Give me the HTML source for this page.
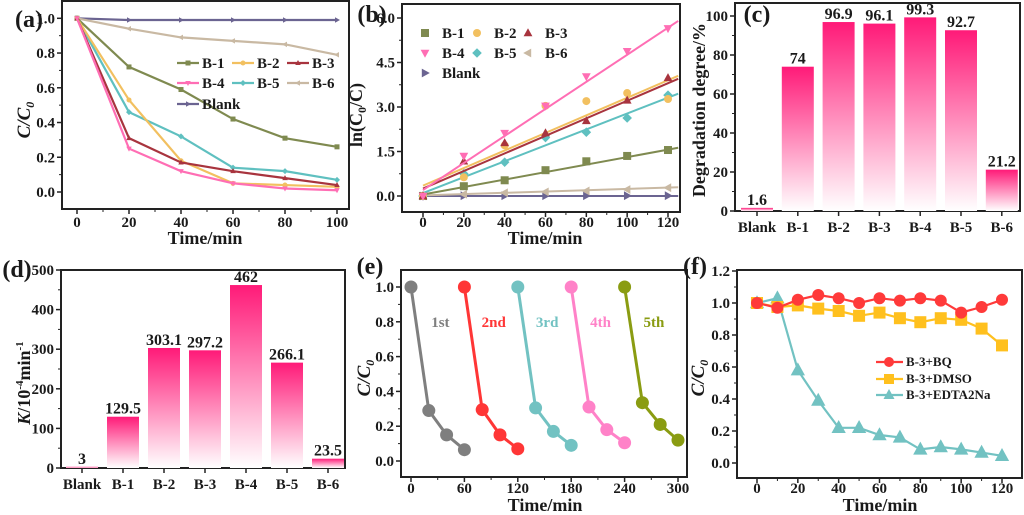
<!DOCTYPE html>
<html><head><meta charset="utf-8"><style>
body{margin:0;background:#fff}
svg{display:block;font-family:"Liberation Serif",serif;font-weight:bold}
</style></head><body>
<svg id="fig" width="1024" height="515" viewBox="0 0 1024 515">
<defs>
<linearGradient id="pg" x1="0" y1="0" x2="0" y2="1"><stop offset="0" stop-color="#ff1a78"/><stop offset="1" stop-color="#ffffff"/></linearGradient>
</defs>
</svg>
<script>
// ---- panel (a) data ----
const aTimes=[0,20,40,60,80,100];
const aNames=["B-1","B-2","B-3","B-4","B-5","B-6","Blank"];
const aB1=[1,0.72,0.59,0.42,0.31,0.26];
const aB2=[1,0.53,0.18,0.05,0.04,0.03];
const aB3=[1,0.31,0.17,0.12,0.08,0.04];
const aB4=[1,0.25,0.12,0.05,0.02,0.01];
const aB5=[1,0.46,0.32,0.14,0.12,0.07];
const aB6=[1,0.94,0.89,0.87,0.85,0.79];
const aBlank=[1,0.99,0.99,0.99,0.99,0.99];
// ---- panel (b) data ----
const bTimes=[0,20,40,60,80,100,120];
const bB1=[0,0.33,0.53,0.87,1.17,1.35,1.55];
const bB2=[0,0.63,1.71,3.04,3.2,3.47,3.27];
const bB3=[0,1.17,1.79,2.12,2.53,3.22,3.98];
const bB4=[0,1.35,2.12,3.04,4.03,4.88,5.65];
const bB5=[0,0.75,1.14,1.97,2.15,2.63,3.4];
const bB6=[0,0.06,0.11,0.14,0.17,0.22,0.28];
const bBlank=[0,0.01,0.01,0.01,0.01,0.01,0.01];
const bIntercepts=[0.05,0.35,0.25,0.2,0.1,0.02,0];
const bSlopes=[0.0126,0.0296,0.0296,0.0456,0.0268,0.0022,0];
// ---- panel (c) data ----
const cats=["Blank","B-1","B-2","B-3","B-4","B-5","B-6"];
const cValues=[1.6,74,96.9,96.1,99.3,92.7,21.2];
// ---- panel (d) data ----
const dValues=[3,129.5,303.1,297.2,462,266.1,23.5];
// ---- panel (e) data ----
const eCycles=["1st","2nd","3rd","4th","5th"];
const eOffsets=[0,60,120,180,240];
const eStep=[0,20,40,60];
const e1=[1,0.29,0.15,0.065];
const e2=[1,0.295,0.15,0.07];
const e3=[1,0.305,0.17,0.09];
const e4=[1,0.31,0.18,0.105];
const e5=[1,0.335,0.21,0.12];
// ---- panel (f) data ----
const fTimes=[0,10,20,30,40,50,60,70,80,90,100,110,120];
const fBQ=[1,0.97,1.02,1.05,1.03,1.0,1.03,1.015,1.03,1.015,0.94,0.975,1.02];
const fDMSO=[1,0.975,0.985,0.965,0.95,0.92,0.94,0.905,0.88,0.905,0.895,0.84,0.735];
const fEDTA=[1,1.03,0.58,0.39,0.22,0.22,0.175,0.16,0.085,0.1,0.085,0.065,0.045];
const fNames=["B-3+BQ","B-3+DMSO","B-3+EDTA2Na"];

const svg=document.getElementById('fig');
const NS='http://www.w3.org/2000/svg';
function mk(tag,attrs,name,inter,parent){
  const el=document.createElementNS(NS,tag);
  for(const k in attrs) el.setAttribute(k,attrs[k]);
  
  
  (parent||svg).appendChild(el);return el;
}
function txt(x,y,s,name,opt){
  opt=opt||{};
  const t=mk('text',{x:x,y:y,'font-size':opt.size||15,'text-anchor':opt.anchor||'middle',fill:opt.fill||'#1a1a1a'},name,false);
  if(opt.italic) t.setAttribute('font-style','italic');
  if(opt.rot) t.setAttribute('transform','rotate(-90 '+x+' '+y+')');
  if(opt.html) t.innerHTML=s; else t.textContent=s;
  return t;
}
function lin(d0,d1,p0,p1){return v=>p0+(v-d0)*(p1-p0)/(d1-d0);}
function frame(x0,y0,x1,y1,name){
  mk('rect',{x:x0,y:y0,width:x1-x0,height:y1-y0,fill:'none',stroke:'#222','stroke-width':2},name,false);
}
function yAxis(x0,sy,ticks,fmt,minor,name){
  ticks.forEach(v=>{
    const y=sy(v);
    mk('line',{x1:x0-5,y1:y,x2:x0,y2:y,stroke:'#222','stroke-width':1.5},name+'-tick',false);
    txt(x0-7,y+5,fmt(v),name+'-label',{anchor:'end'});
  });
  (minor||[]).forEach(v=>{const y=sy(v);mk('line',{x1:x0-3,y1:y,x2:x0,y2:y,stroke:'#222','stroke-width':1},name+'-minor-tick',false);});
}
function xAxis(y0,sx,ticks,fmt,minor,name,ly){
  ticks.forEach(v=>{
    const x=sx(v);
    mk('line',{x1:x,y1:y0,x2:x,y2:y0+5,stroke:'#222','stroke-width':1.5},name+'-tick',false);
    txt(x,ly,fmt(v),name+'-label');
  });
  (minor||[]).forEach(v=>{const x=sx(v);mk('line',{x1:x,y1:y0,x2:x,y2:y0+3,stroke:'#222','stroke-width':1},name+'-minor-tick',false);});
}
function marker(type,x,y,s,color,name){
  let el;
  if(type==='sq') el=mk('rect',{x:x-s,y:y-s,width:2*s,height:2*s,fill:color},name,false);
  else if(type==='ci') el=mk('circle',{cx:x,cy:y,r:s,fill:color},name,false);
  else {
    let p;
    if(type==='up') p=[[x,y-s*1.2],[x-s*1.1,y+s*0.8],[x+s*1.1,y+s*0.8]];
    if(type==='dn') p=[[x,y+s*1.2],[x-s*1.1,y-s*0.8],[x+s*1.1,y-s*0.8]];
    if(type==='di') p=[[x,y-s*1.2],[x+s*1.2,y],[x,y+s*1.2],[x-s*1.2,y]];
    if(type==='lt') p=[[x-s*1.2,y],[x+s*0.8,y-s*1.1],[x+s*0.8,y+s*1.1]];
    if(type==='rt') p=[[x+s*1.2,y],[x-s*0.8,y-s*1.1],[x-s*0.8,y+s*1.1]];
    el=mk('polygon',{points:p.map(q=>q.join(',')).join(' '),fill:color},name,false);
  }
  return el;
}
function poly(xs,ys,sx,sy,color,w,name){
  mk('polyline',{points:xs.map((v,i)=>sx(v)+','+sy(ys[i])).join(' '),fill:'none',stroke:color,'stroke-width':w},name,false);
}
const range=(a,b,s)=>{const r=[];for(let v=a;v<=b+1e-9;v+=s)r.push(+v.toFixed(6));return r;};
const seriesCols=["#7f8a50","#f2c060","#a8343e","#ff6eb4","#5fc0c0","#c9b9a3","#6b6491"];
const markTypes=["sq","ci","up","dn","di","lt","rt"];

// ===== Panel (a) =====
{
  const sx=lin(0,100,77,337), sy=lin(0,1,192,18.3);
  frame(62,1,349,209,'panel-a-frame');
  yAxis(62,sy,range(0,1,0.2),v=>v.toFixed(1),range(0.1,0.9,0.2),'a-y-tick');
  xAxis(209,sx,aTimes,v=>v,range(10,90,20),'a-x-tick',227);
  const all=[aB1,aB2,aB3,aB4,aB5,aB6,aBlank];
  [6,5,0,4,1,2,3].forEach(i=>{
    poly(aTimes,all[i],sx,sy,seriesCols[i],2.2,'a-line-'+aNames[i]);
    aTimes.forEach((t,j)=>marker(markTypes[i],sx(t),sy(all[i][j]),2.5,seriesCols[i],'a-point-'+aNames[i]));
  });
  const lx=[177,232,287], ly=[63,83,104];
  aNames.forEach((n,i)=>{
    const x=lx[i%3], y=ly[Math.floor(i/3)];
    mk('line',{x1:x,y1:y,x2:x+22,y2:y,stroke:seriesCols[i],'stroke-width':2.2},'a-legend-line-'+n,false);
    marker(markTypes[i],x+11,y,2.5,seriesCols[i],'a-legend-marker-'+n);
    txt(x+25,y+5,n,'a-legend-'+n,{anchor:'start',size:15});
  });
  txt(30,120,'C/C<tspan font-size="12" dy="4">0</tspan>','a-y-axis-title',{rot:1,size:19,italic:1,html:1});
  txt(205,244,'Time/min','a-x-axis-title',{size:18});
  txt(29,27,'(a)','panel-a-label',{size:24});
}
// ===== Panel (b) =====
{
  const sx=lin(0,120,423,668), sy=lin(0,6,196,18);
  frame(402,4,680,212,'panel-b-frame');
  yAxis(402,sy,range(0,6,1.5),v=>v.toFixed(1),range(0.75,5.25,1.5),'b-y-tick');
  xAxis(212,sx,bTimes,v=>v,range(10,110,20),'b-x-tick',227);
  const all=[bB1,bB2,bB3,bB4,bB5,bB6,bBlank];
  [6,5,0,4,1,2,3].forEach(i=>{
    const b0=bIntercepts[i], k=bSlopes[i];
    mk('line',{x1:sx(0),y1:sy(b0),x2:sx(125),y2:sy(b0+k*125),stroke:seriesCols[i],'stroke-width':2},'b-fit-line-'+aNames[i],false);
    bTimes.forEach((t,j)=>marker(markTypes[i],sx(t),sy(all[i][j]),4,seriesCols[i],'b-point-'+aNames[i]));
  });
  const lx=[425,477,528], ly=[33,53,73];
  aNames.forEach((n,i)=>{
    const x=lx[i%3], y=ly[Math.floor(i/3)];
    marker(markTypes[i],x,y,4,seriesCols[i],'b-legend-marker-'+n);
    txt(x+17,y+5,n,'b-legend-'+n,{anchor:'start',size:15});
  });
  txt(362,115,'ln(C<tspan font-size="12" dy="4">0</tspan><tspan dy="-4">/C)</tspan>','b-y-axis-title',{rot:1,size:18,html:1});
  txt(545,244,'Time/min','b-x-axis-title',{size:18});
  txt(372,22,'(b)','panel-b-label',{size:24});
}
// ===== Bar helper =====
function bars(vals,sy,x0Center,step,bw,base,prefix,fmt){
  vals.forEach((v,i)=>{
    const cx=x0Center+i*step;
    mk('rect',{x:cx-bw/2,y:sy(v),width:bw,height:Math.max(base-sy(v),1),fill:'url(#pg)'},prefix+'-bar-'+cats[i],false);
    txt(cx,sy(v)-3,fmt(v),prefix+'-value-'+cats[i],{size:16});
  });
}
// ===== Panel (c) =====
{
  const sy=lin(0,100,211,16);
  frame(735,3,1020,211,'panel-c-frame');
  yAxis(735,sy,range(0,100,20),v=>v,range(10,90,20),'c-y-tick');
  bars(cValues,sy,757,40.8,32,211,'c',v=>String(v));
  cats.forEach((c,i)=>{const x=757+i*40.8;mk('line',{x1:x,y1:211,x2:x,y2:216,stroke:'#222','stroke-width':1.5},'c-x-tick',false);txt(x,232,c,'c-x-label-'+c,{size:15});});
  txt(705,110,'Degradation degree/%','c-y-axis-title',{rot:1,size:18});
  txt(757,22,'(c)','panel-c-label',{size:24});
}
// ===== Panel (d) =====
{
  const sy=lin(0,500,468,270);
  frame(61,270,345,468,'panel-d-frame');
  yAxis(61,sy,range(0,500,100),v=>v,range(50,450,100),'d-y-tick');
  bars(dValues,sy,82,41,32,468,'d',v=>String(v));
  cats.forEach((c,i)=>{const x=82+i*41;mk('line',{x1:x,y1:468,x2:x,y2:473,stroke:'#222','stroke-width':1.5},'d-x-tick',false);txt(x,489,c,'d-x-label-'+c,{size:15});});
  txt(30,383,'<tspan font-style="italic">K</tspan>/10<tspan font-size="11" dy="-7">-4</tspan><tspan dy="7">min</tspan><tspan font-size="11" dy="-7">-1</tspan>','d-y-axis-title',{rot:1,size:18,html:1});
  txt(17,277,'(d)','panel-d-label',{size:24});
}
// ===== Panel (e) =====
{
  const sx=lin(0,300,411,678), sy=lin(0,1,461,287);
  frame(401,270,687,477,'panel-e-frame');
  yAxis(401,sy,range(0,1,0.2),v=>v.toFixed(1),range(0.1,0.9,0.2),'e-y-tick');
  xAxis(477,sx,range(0,300,60),v=>v,range(30,270,60),'e-x-tick',493);
  const all=[e1,e2,e3,e4,e5], cols=["#7f7f7f","#ff3636","#72c2c2","#ff82c8","#8a9c12"];
  all.forEach((ys,i)=>{
    const xs=eStep.map(s=>s+eOffsets[i]);
    poly(xs,ys,sx,sy,cols[i],3,'e-line-'+eCycles[i]);
    xs.forEach((x,j)=>marker('ci',sx(x),sy(ys[j]),6.5,cols[i],'e-point-'+eCycles[i]));
    txt(sx(eOffsets[i]+33),sy(0.8)+5,eCycles[i],'e-label-'+eCycles[i],{size:15,fill:cols[i]});
  });
  txt(370,378,'C/C<tspan font-size="12" dy="4">0</tspan>','e-y-axis-title',{rot:1,size:19,italic:1,html:1});
  txt(545,511,'Time/min','e-x-axis-title',{size:18});
  txt(370,274,'(e)','panel-e-label',{size:24});
}
// ===== Panel (f) =====
{
  const sx=lin(0,120,757,1002), sy=lin(0,1.2,463,271);
  frame(737,270,1022,478,'panel-f-frame');
  yAxis(737,sy,range(0,1.2,0.2),v=>v.toFixed(1),range(0.1,1.1,0.2),'f-y-tick');
  xAxis(478,sx,range(0,120,20),v=>v,range(10,110,20),'f-x-tick',493);
  const all=[fBQ,fDMSO,fEDTA], cols=["#ff3a3a","#ffc01e","#72c2c2"], mt=["ci","sq","up"], ms=[6,6,6.5];
  [2,1,0].forEach(i=>{
    poly(fTimes,all[i],sx,sy,cols[i],2.2,'f-line-'+fNames[i]);
    fTimes.forEach((t,j)=>marker(mt[i],sx(t),sy(all[i][j]),ms[i],cols[i],'f-point-'+fNames[i]));
  });
  const ly=[362,379,395];
  fNames.forEach((n,i)=>{
    mk('line',{x1:876,y1:ly[i],x2:903,y2:ly[i],stroke:cols[i],'stroke-width':2.2},'f-legend-line',false);
    marker(mt[i],889,ly[i],5,cols[i],'f-legend-marker');
    txt(906,ly[i]+4,n,'f-legend-'+n,{anchor:'start',size:13});
  });
  txt(704,378,'C/C<tspan font-size="12" dy="4">0</tspan>','f-y-axis-title',{rot:1,size:19,italic:1,html:1});
  txt(880,511,'Time/min','f-x-axis-title',{size:18});
  txt(695,274,'(f)','panel-f-label',{size:24});
}
</script>
</body></html>
